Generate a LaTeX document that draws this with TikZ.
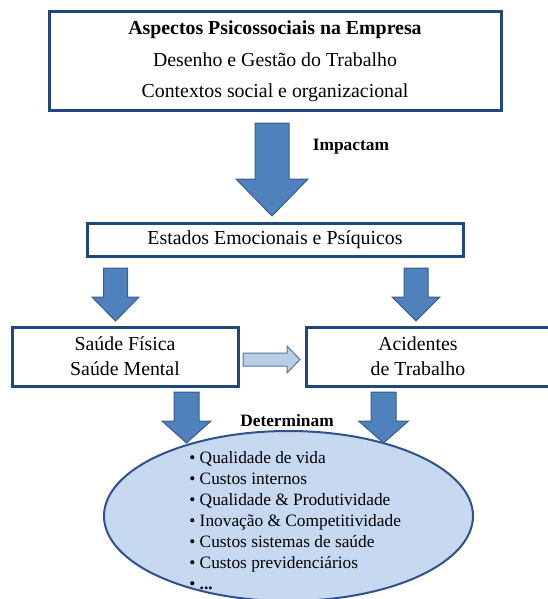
\documentclass[tikz,border=0pt]{standalone}
\usepackage{fontspec}
\setmainfont{Liberation Serif}
\usetikzlibrary{shapes.geometric}
\definecolor{boxblue}{RGB}{31,73,125}
\definecolor{arrowfill}{RGB}{79,129,189}
\definecolor{arrowedge}{RGB}{56,93,138}
\definecolor{lightfill}{RGB}{185,205,229}
\definecolor{lightedge}{RGB}{79,120,175}
\definecolor{ellfill}{RGB}{198,217,241}
\definecolor{elledge}{RGB}{47,82,143}
% down block arrow: centre x, top, head start, tip, shaft half width, head half width
\newcommand{\blockdown}[6]{%
  \draw[blockarrow] ({#1-#5},#2) -- ({#1+#5},#2) -- ({#1+#5},#3) -- ({#1+#6},#3)
    -- (#1,#4) -- ({#1-#6},#3) -- ({#1-#5},#3) -- cycle;}
\begin{document}
\begin{tikzpicture}[x=0.6pt,y=-0.6pt,line join=miter]
	\tikzset{box/.style={draw=boxblue,line width=1.8pt,fill=white,inner sep=0pt,align=center,font=\fontsize{11.9}{18.9}\selectfont},
		blockarrow/.style={fill=arrowfill,draw=arrowedge,line width=0.6pt},
		verb/.style={font=\fontsize{10.4}{12.6}\selectfont\bfseries}}
	\useasboundingbox (0,0) rectangle (548,599);
	\node[box,minimum width=271.2pt,minimum height=59.4pt] (aspectos) at (275,61.5)
		{\textbf{Aspectos Psicossociais na Empresa}\\Desenho e Gestão do Trabalho\\Contextos social e organizacional};
	\blockdown{272}{123}{179}{216}{17}{36}
	\node[verb,anchor=west] (impactam) at (307,147) {Impactam};
	\node[box,minimum width=225.6pt,minimum height=19.8pt] (estados) at (275,239.5) {Estados Emocionais e Psíquicos};
	\blockdown{115.5}{268}{297}{321}{12}{23.5}
	\blockdown{416}{268}{297}{321}{12}{24}
	\node[box,minimum width=135.6pt,minimum height=35.4pt,font=\fontsize{11.9}{15}\selectfont] (saude) at (125,356.5)
		{Saúde Física\\Saúde Mental};
	\node[box,minimum width=149.4pt,minimum height=35.4pt] (acidentes) at (430.5,356.5) {};
	\node[align=center,inner sep=0pt,font=\fontsize{11.9}{15}\selectfont] (acidtxt) at (418,356.5) {Acidentes\\de Trabalho};
	\draw[fill=lightfill,draw=lightedge,line width=0.6pt] (243,353) -- (287,353) -- (287,346) -- (300,359.5)
		-- (287,373) -- (287,366) -- (243,366) -- cycle;
	\node[ellipse,draw=elledge,fill=ellfill,line width=1.2pt,minimum width=221.4pt,minimum height=102pt,inner sep=0pt]
		(efeitos) at (288.5,516) {};
	\blockdown{186.5}{392}{421}{443}{12.5}{24.5}
	\blockdown{383.5}{392}{421}{443}{12.5}{25}
	\node[verb] (determinam) at (287,421) {Determinam};
	\node[anchor=west,align=left,inner sep=0pt,font=\fontsize{10.4}{12.6}\selectfont] (lista) at (189,520.5)
		{• Qualidade de vida\\• Custos internos\\• Qualidade \& Produtividade\\• Inovação \& Competitividade\\%
		• Custos sistemas de saúde\\• Custos previdenciários\\• \textbf{...}};
\end{tikzpicture}
\end{document}
